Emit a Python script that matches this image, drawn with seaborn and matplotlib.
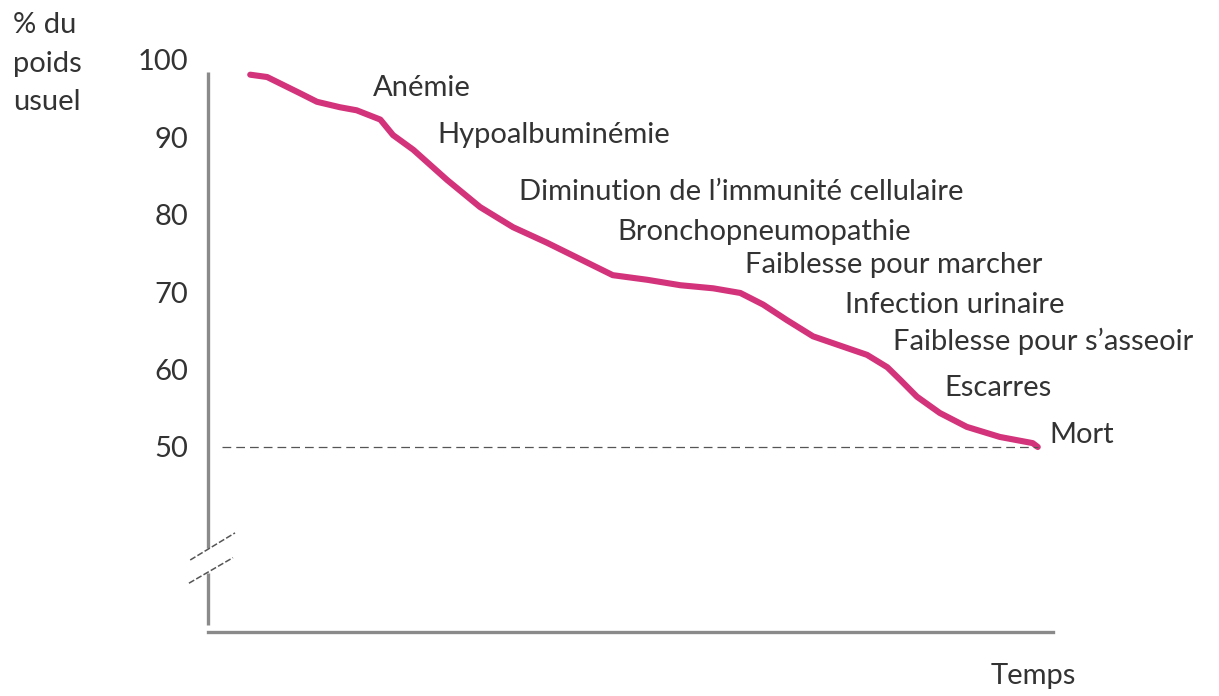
import numpy as np
import pandas as pd
import matplotlib.pyplot as plt
import seaborn as sns

# weight curve, time in arbitrary units (0..100), weight in % of usual weight
temps = [5.0, 7.0, 10.9, 12.9, 15.6, 17.6, 20.4, 21.9, 24.3, 28.3, 32.2, 36.1,
         40.1, 44.0, 47.9, 52.0, 55.9, 59.8, 63.0, 65.7, 68.5, 71.6, 74.0,
         78.0, 80.4, 81.9, 83.9, 86.6, 89.8, 93.7, 97.6, 98.2]
poids = [98.1, 97.8, 95.7, 94.6, 93.9, 93.5, 92.3, 90.3, 88.4, 84.5, 81.0, 78.4,
         76.4, 74.3, 72.2, 71.6, 70.9, 70.5, 69.9, 68.4, 66.4, 64.3, 63.4,
         61.9, 60.3, 58.7, 56.5, 54.4, 52.6, 51.3, 50.5, 50.0]

# events along the curve
evenements = ["Anémie", "Hypoalbuminémie", "Diminution de l’immunité cellulaire",
              "Bronchopneumopathie", "Faiblesse pour marcher", "Infection urinaire",
              "Faiblesse pour s’asseoir", "Escarres", "Mort"]
ev_x = [19.5, 27.1, 36.8, 48.4, 63.6, 75.4, 81.1, 87.2, 99.6]
ev_y = [96.4, 90.3, 82.9, 77.8, 73.5, 68.3, 63.6, 57.6, 51.6]

yticks = [50, 60, 70, 80, 90, 100]

sns.set_style("white")
plt.rcParams['font.family'] = ['Lato', 'DejaVu Sans']

txt = '#333333'
axc = '#8a8a8a'
rose = '#d3337a'

fig = plt.figure(figsize=(12.19, 6.96), dpi=100)
ax = fig.add_axes([0.1706, 0.0920, 0.6932, 0.8218])

df = pd.DataFrame({'temps': temps, 'poids': poids})
sns.lineplot(data=df, x='temps', y='poids', ax=ax, color=rose, lw=4.4,
             solid_capstyle='round')

# 50 % threshold
ax.plot([1.7, 98.2], [50, 50], color='#555555', lw=0.9, ls=(0, (7, 4)))

ax.set_xlim(0, 100)
ax.set_ylim(26.1, 100)

for s in ['top', 'right', 'left']:
    ax.spines[s].set_visible(False)
ax.spines['bottom'].set_color(axc)
ax.spines['bottom'].set_linewidth(2.4)

# broken y axis drawn by hand
ax.plot([0, 0], [36.95, 98.45], color=axc, lw=2.4, solid_capstyle='butt', clip_on=False)
ax.plot([0, 0], [27.0, 33.7], color=axc, lw=2.4, solid_capstyle='butt', clip_on=False)
ax.plot([-2.1, 3.2], [35.4, 38.9], color='#555555', lw=1.1, ls=(0, (4, 1.5)), clip_on=False)
ax.plot([-2.25, 2.96], [32.4, 35.7], color='#555555', lw=1.1, ls=(0, (4, 1.5)), clip_on=False)

ax.set_yticks(yticks)
ax.set_yticklabels([str(v) for v in yticks], fontsize=21, color=txt)
ax.tick_params(axis='y', length=0, pad=14)
ax.set_xticks([])
ax.set_xlabel('')
ax.set_ylabel('')

for lab, x, y in zip(evenements, ev_x, ev_y):
    ax.text(x, y, lab, fontsize=21, color=txt, va='center', ha='left', clip_on=False)

fig.text(13 / 1219, 1 - 12 / 696, "% du\npoids\nusuel", fontsize=21, color=txt,
         ha='left', va='top', linespacing=1.6)
fig.text(1033 / 1219, 1 - 676 / 696, "Temps", fontsize=21, color=txt,
         ha='center', va='center')

plt.savefig("out.png", dpi=100)
